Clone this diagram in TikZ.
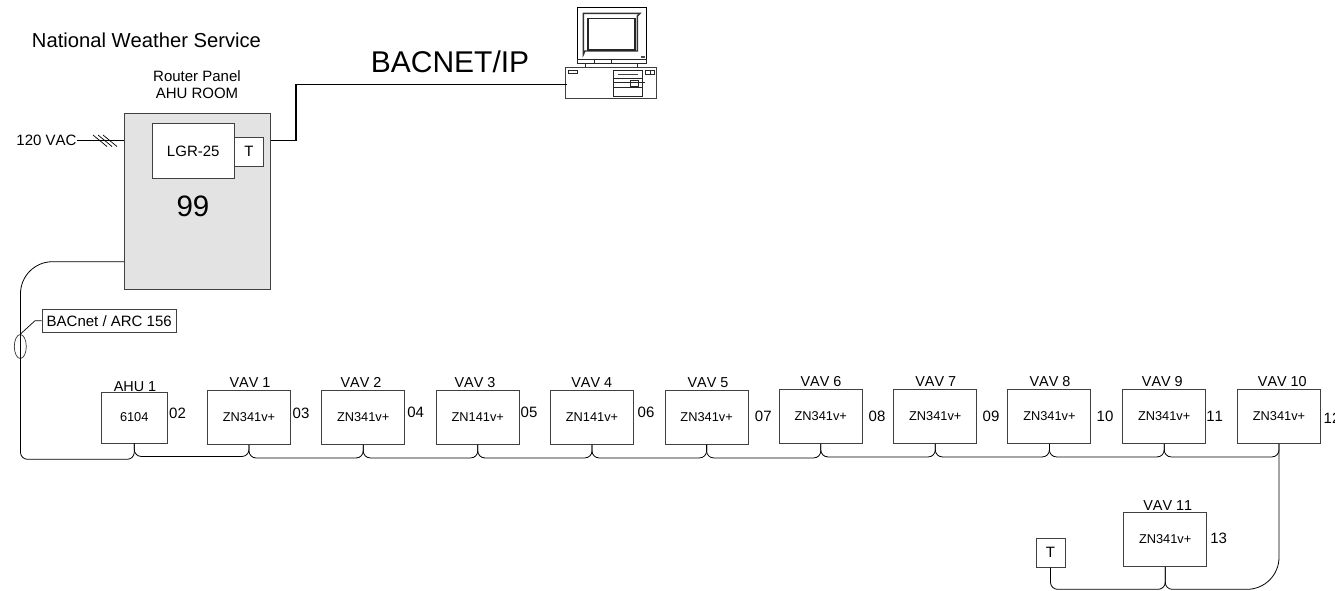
\documentclass[tikz,border=0pt]{standalone}
\usepackage{fontspec}
\setmainfont[Kerning=Off]{Liberation Sans}
\usetikzlibrary{shapes.geometric}
\tikzset{
	box/.style={draw=black!75,line width=.9pt,fill=white,inner sep=0pt,font=\fontsize{12.8}{14}\selectfont},
	ctrl/.style={box,minimum width=83pt,minimum height=54.5pt},
	txt/.style={inner sep=0pt,font=\fontsize{15}{17}\selectfont},
	wire/.style={line width=.8pt,rounded corners=7pt},
	pcline/.style={line width=.8pt,black!85}
}
\begin{document}
\begin{tikzpicture}
	[x=1pt,y=-1pt]
	\useasboundingbox (0,0) rectangle (1335,590);
	\node[txt,font=\fontsize{20.2}{22}\selectfont] (title) at (146.5,40) {National Weather Service};
	\node[txt,align=center] (room) at (197,84.5) {Router Panel\\[-.5pt]AHU ROOM};
	\node[txt,font=\fontsize{30}{32}\selectfont] (ip) at (450,62) {BACNET/IP};

	\node[draw=black!75,line width=.9pt,fill=black!11,minimum width=146.5pt,minimum height=176pt,inner sep=0pt] (panel) at (197.25,201) {};
	\node[box,txt,minimum width=82.5pt,minimum height=55pt] (lgr) at (193.25,151) {LGR-25};
	\node[box,txt,minimum width=29pt,minimum height=29pt] (tstat) at (249,151.5) {T};
	\node[txt,font=\fontsize{29.5}{31}\selectfont] (addr) at (193,206) {99};
	\node[txt] (vac) at (46.5,140) {120 VAC};
	\coordinate (acin) at (124,140.5);
	\coordinate (ipport) at (270.5,140.5);
	\coordinate (arcport) at (124,261.7);

	\draw[line width=.7pt] (vac.east |- acin) -- (acin);
	\foreach \s in {0,5,10}
	\draw[line width=.7pt] (93+\s,135) -- (107+\s,146.5);

	\node[draw=black!75,line width=.8pt,minimum width=91pt,minimum height=31.4pt,inner sep=0pt] (case) at (611.2,83) {};
	\coordinate (pcport) at (567,84.5);
	\draw[line width=1.9pt] (ipport) -- (296,140.5) -- (296,84.5) -- (pcport);

	\draw[line width=1pt] (577.3,7.3) rectangle (646,59.3);
	\draw[pcline] (577.3,59.3) rectangle (646,63.3);
	\draw[line width=1.4pt,black!80] (583.3,54.6) -- (583.3,13.3) -- (640,13.3) -- (637.3,16) -- (637.3,51) -- (585,51) -- cycle;
	\draw[line width=1.1pt,black!85] (588,18.3) rectangle (635,50);
	\fill[black!70] (641,55.5) rectangle (644.5,58);
	\foreach \x in {585.7,637.3}
	\draw[pcline] (\x,63.3) -- (\x,67.3);
	\foreach \x in {594.3,611.7}
	\draw[pcline] (\x,59.3) -- (\x,63.3);
	\draw[pcline] (568.3,70) rectangle (577.7,73.3);
	\draw[pcline] (613.3,70) rectangle (642.7,96.7);
	\draw[line width=1.4pt,black!75] (618.3,74.5) -- (638.3,74.5);
	\draw[pcline] (613.3,78.3) -- (642.7,78.3);
	\draw[pcline] (613.3,82.5) -- (645,82.5);
	\draw[pcline] (613.3,87.3) -- (642.7,87.3);
	\draw[pcline] (630.7,80) rectangle (638.7,86);
	\draw[pcline] (645,70.7) rectangle (650,74.3);
	\draw[pcline] (650.7,70.7) rectangle (654.3,74.3);

	\node[draw=black!75,line width=.7pt,minimum width=134.5pt,minimum height=22.5pt,inner sep=0pt,txt] (arc) at (109.25,320.75) {BACnet / ARC 156};
	\node[draw=black!80,line width=.7pt,minimum width=12pt,minimum height=24pt,inner sep=0pt,ellipse] (sleeve) at (20.3,346.5) {};

	\node[box,minimum width=65.5pt,minimum height=51pt] (d0) at (134.25,417.5) {6104};
	\foreach \n/\x/\y/\m in {1/249/417.25/ZN341v+,2/363.2/417.2/ZN341v+,3/477.8/417.2/ZN141v+,4/592/417.2/ZN141v+,5/706.6/417.2/ZN341v+,6/820.8/416.2/ZN341v+,7/935.3/416.2/ZN341v+,8/1049.4/416.2/ZN341v+,9/1164.2/416.2/ZN341v+,10/1279/416.2/ZN341v+}
	\node[ctrl] (d\n) at (\x,\y) {\m};
	\node[ctrl] (d11) at (1165.2,539.5) {ZN341v+};
	\node[box,txt,minimum width=29pt,minimum height=28.7pt] (tstatb) at (1050.5,552.7) {T};

	\foreach \n/\x/\y/\m in {a/135/386.5/AHU 1,b/250/382.5/VAV 1,c/361/382.5/VAV 2,d/475/382.5/VAV 3,e/591.7/382.5/VAV 4,f/708/382.5/VAV 5,g/821/381.5/VAV 6,h/935.7/381.5/VAV 7,i/1050/381.5/VAV 8,j/1162.3/381.5/VAV 9,k/1282.3/381.5/VAV 10,l/1167.7/505.7/VAV 11}
	\node[txt,font=\fontsize{14.4}{16}\selectfont] (lab\n) at (\x,\y) {\m};

	\foreach \n/\x/\y in {02/177.5/413,03/301/413,04/415.7/412.7,05/529/412.7,06/646/412.7,07/763.3/416.7,08/877/416.7,09/991/416.7,10/1105/416.7,11/1214.7/416.7,12/1332/418,13/1218.7/538.7}
	\node[txt] (mac\n) at (\x,\y) {\n};

	\coordinate (drop) at (20.5,320);
	\coordinate (turn) at (1200,589.3);
	\draw[line width=.7pt] (arc.west) -- (35,320.75) -- (sleeve.north);
	\draw[wire,rounded corners=32pt] (arcport) -- (20.5,261.7) -- (drop);
	\draw[wire] (drop) -- (20.5,459.3) -- (134.25,459.3) -- (d0.south);
	\foreach \from/\to in {d0/d1,d1/d2,d2/d3,d3/d4,d4/d5,d5/d6,d6/d7,d7/d8,d8/d9,d9/d10}
	\draw[wire] (\from.south) -- ++(0,13) -| (\to.south);
	\draw[wire,rounded corners=32pt] (d10.south) -- (1279,589.3) -- (turn);
	\draw[wire] (turn) -- (d11.south |- turn) -- (d11.south);
	\draw[wire] (tstatb.south) |- (d11.south |- turn) -- (d11.south);
\end{tikzpicture}
\end{document}
